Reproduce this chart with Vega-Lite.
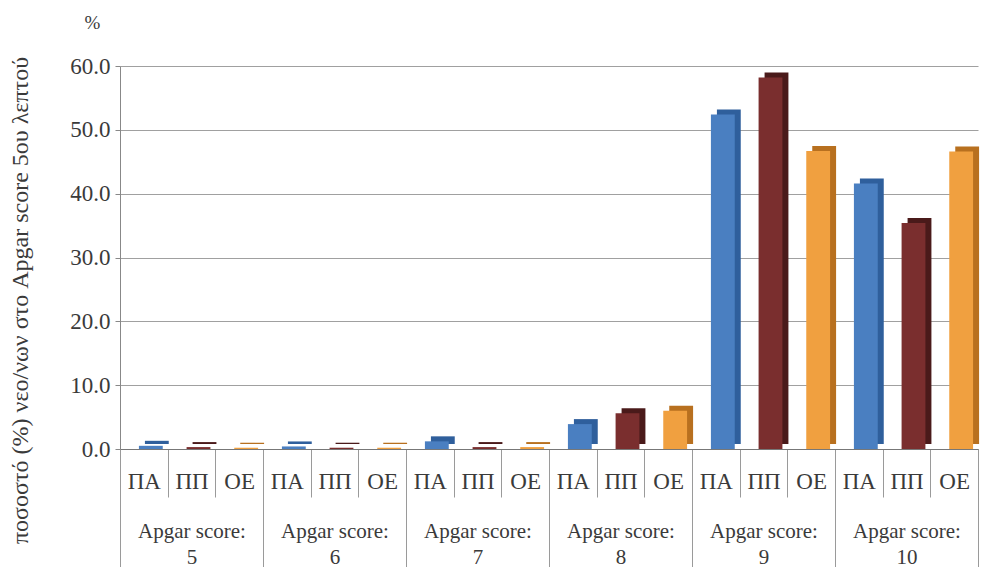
{
  "$schema": "https://vega.github.io/schema/vega-lite/v6.json",
  "width": 858,
  "height": 383,
  "autosize": {"type": "none"},
  "padding": {"left": 120, "top": 66, "right": 14, "bottom": 118},
  "background": "white",
  "data": {"values": [
    {"score": 5, "group": "ΠΑ", "cat": "5 ΠΑ", "value": 0.5},
    {"score": 5, "group": "ΠΠ", "cat": "5 ΠΠ", "value": 0.3},
    {"score": 5, "group": "ΟΕ", "cat": "5 ΟΕ", "value": 0.2},
    {"score": 6, "group": "ΠΑ", "cat": "6 ΠΑ", "value": 0.4},
    {"score": 6, "group": "ΠΠ", "cat": "6 ΠΠ", "value": 0.2},
    {"score": 6, "group": "ΟΕ", "cat": "6 ΟΕ", "value": 0.2},
    {"score": 7, "group": "ΠΑ", "cat": "7 ΠΑ", "value": 1.2},
    {"score": 7, "group": "ΠΠ", "cat": "7 ΠΠ", "value": 0.3},
    {"score": 7, "group": "ΟΕ", "cat": "7 ΟΕ", "value": 0.3},
    {"score": 8, "group": "ΠΑ", "cat": "8 ΠΑ", "value": 3.9},
    {"score": 8, "group": "ΠΠ", "cat": "8 ΠΠ", "value": 5.6},
    {"score": 8, "group": "ΟΕ", "cat": "8 ΟΕ", "value": 6.0},
    {"score": 9, "group": "ΠΑ", "cat": "9 ΠΑ", "value": 52.4},
    {"score": 9, "group": "ΠΠ", "cat": "9 ΠΠ", "value": 58.2},
    {"score": 9, "group": "ΟΕ", "cat": "9 ΟΕ", "value": 46.7},
    {"score": 10, "group": "ΠΑ", "cat": "10 ΠΑ", "value": 41.6},
    {"score": 10, "group": "ΠΠ", "cat": "10 ΠΠ", "value": 35.4},
    {"score": 10, "group": "ΟΕ", "cat": "10 ΟΕ", "value": 46.6}
  ]},
  "config": {"view": {"stroke": null}},
  "layer": [
    {
      "mark": {"type": "bar", "opacity": 0},
      "encoding": {
        "x": {"field": "score", "type": "ordinal", "scale": {"paddingInner": 0, "paddingOuter": 0},
          "axis": {"orient": "bottom", "tickBand": "extent", "tickSize": 118, "tickColor": "#9a9a9a", "domain": false,
            "labelAngle": 0, "labelPadding": -47, "labelFont": "'Liberation Serif', 'DejaVu Serif', serif", "labelFontSize": 21, "labelColor": "#3a3a3a",
            "labelExpr": "indexof(['5','6','7','8','9','10'], datum.label + '') >= 0 ? ['Apgar score:', datum.label] : ''",
            "labelLineHeight": 26, "labelBaseline": "top", "labelOverlap": false,
            "title": "%", "titleFont": "'Liberation Serif', 'DejaVu Serif', serif", "titleFontSize": 19, "titleFontWeight": "normal", "titleColor": "#3a3a3a",
            "titleAngle": 0, "titleAlign": "center", "titleBaseline": "middle", "titleX": -28, "titleY": -427}},
        "y": {"field": "value", "type": "quantitative", "scale": {"domain": [0, 60]},
          "axis": {"values": [0, 10, 20, 30, 40, 50, 60], "format": ".1f", "grid": true, "gridColor": "#a0a0a0", "tickSize": 5, "tickColor": "#888888",
            "domainColor": "#888888", "labelFont": "'Liberation Serif', 'DejaVu Serif', serif", "labelFontSize": 23, "labelPadding": 5, "labelColor": "#3a3a3a", "orient": "left",
            "title": "ποσοστό (%) νεο/νων στο Apgar score 5ου λεπτού", "titleFont": "'Liberation Serif', 'DejaVu Serif', serif", "titleFontSize": 24, "titleFontWeight": "normal", "titleColor": "#3a3a3a",
            "titleAngle": 270, "titleBaseline": "bottom", "titleAlign": "center", "titleX": -88, "titleY": 234}}
      }
    },
    {
      "mark": {"type": "bar", "opacity": 0},
      "encoding": {
        "x": {"field": "cat", "type": "nominal", "sort": null, "scale": {"paddingInner": 0, "paddingOuter": 0},
          "axis": {"orient": "bottom", "title": null, "tickBand": "extent", "tickSize": 48, "tickColor": "#9a9a9a", "domainColor": "#777777",
            "labelAngle": 0, "labelPadding": -27, "labelFont": "'Liberation Serif', 'DejaVu Serif', serif", "labelFontSize": 23, "labelColor": "#3a3a3a",
            "labelExpr": "split(datum.label, ' ')[1]", "labelBaseline": "top", "labelOverlap": false}},
        "y": {"field": "value", "type": "quantitative", "scale": {"domain": [0, 60]}}
      }
    },
    {
      "mark": {"type": "bar", "xOffset": 13, "yOffset": -5},
      "encoding": {
        "x": {"field": "cat", "type": "nominal", "sort": null, "scale": {"paddingInner": 0.5, "paddingOuter": 0.25}, "axis": null},
        "y": {"field": "value", "type": "quantitative", "scale": {"domain": [0, 60]}},
        "color": {"field": "group", "type": "nominal", "scale": {"domain": ["ΠΑ", "ΠΠ", "ΟΕ"], "range": ["#2f5f9c", "#4a1a1a", "#b8701f"]}, "legend": null}
      }
    },
    {
      "mark": {"type": "bar", "xOffset": 7},
      "encoding": {
        "x": {"field": "cat", "type": "nominal", "sort": null, "scale": {"paddingInner": 0.5, "paddingOuter": 0.25}, "axis": null},
        "y": {"field": "value", "type": "quantitative", "scale": {"domain": [0, 60]}},
        "color": {"field": "group", "type": "nominal", "scale": {"domain": ["ΠΑ", "ΠΠ", "ΟΕ"], "range": ["#4a7fc1", "#7a2e2e", "#f0a040"]}, "legend": null}
      }
    }
  ],
  "resolve": {"scale": {"x": "independent", "color": "independent"}, "axis": {"x": "independent"}}
}
